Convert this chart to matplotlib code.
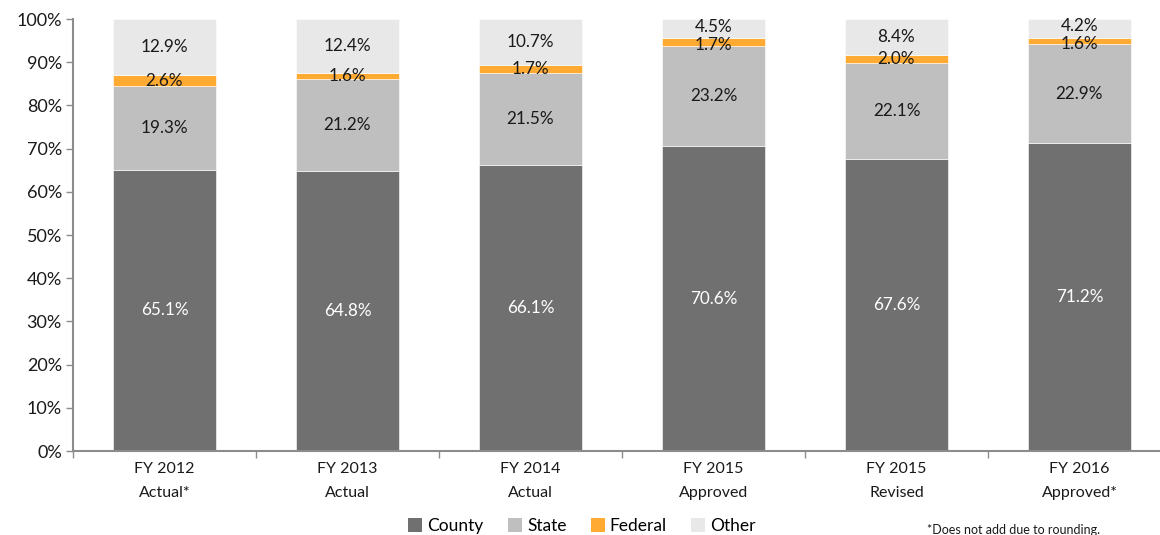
import matplotlib
matplotlib.use("Agg")
import matplotlib.pyplot as plt
from matplotlib.ticker import FixedLocator, PercentFormatter
from matplotlib.patches import Patch
import numpy as np

plt.rcParams['font.family'] = ['Lato', 'DejaVu Sans']

categories = ["FY 2012\nActual*", "FY 2013\nActual", "FY 2014\nActual",
              "FY 2015\nApproved", "FY 2015\nRevised", "FY 2016\nApproved*"]
county = [65.1, 64.8, 66.1, 70.6, 67.6, 71.2]
state = [19.3, 21.2, 21.5, 23.2, 22.1, 22.9]
federal = [2.6, 1.6, 1.7, 1.7, 2.0, 1.6]
other = [12.9, 12.4, 10.7, 4.5, 8.4, 4.2]

series = [("County", county, "#707070", "white"),
          ("State", state, "#BFBFBF", "#1a1a1a"),
          ("Federal", federal, "#FFAB33", "#1a1a1a"),
          ("Other", other, "#E8E8E8", "#1a1a1a")]

fig = plt.figure(figsize=(11.6, 5.35), dpi=100)
ax = fig.add_axes([73 / 1160, 1 - 451 / 535, 1098 / 1160, 432 / 535])

x = np.arange(len(categories))
bottom = np.zeros(len(categories))
handles = []
for name, vals, color, tcolor in series:
    vals = np.array(vals)
    ax.bar(x, vals, 0.56, bottom=bottom, color=color,
           edgecolor="white", linewidth=0.4, zorder=2)
    for i, (xi, b, v) in enumerate(zip(x, bottom, vals)):
        ypos = b + v / 2
        # spread the two top labels apart when the top segment is thin
        if other[i] < 6:
            if name == "Federal":
                ypos -= 0.6
            elif name == "Other":
                ypos += 0.5
        ax.text(xi, ypos, f"{v:.1f}%", ha="center", va="center",
                fontsize=12.3, color=tcolor, zorder=3)
    bottom += vals
    handles.append(Patch(facecolor=color, label=name))

ax.set_xlim(-0.5, len(categories) - 0.5)
ax.set_ylim(0, 100)

ax.yaxis.set_major_locator(FixedLocator(np.arange(0, 101, 10)))
ax.yaxis.set_major_formatter(PercentFormatter(decimals=0))
ax.tick_params(axis="y", labelsize=13, length=5, color="#8c8c8c",
               width=1, pad=3, labelcolor="#1a1a1a")

ax.set_xticks(x)
ax.set_xticklabels(categories, fontsize=11.5, linespacing=1.9, color="#1a1a1a")
ax.tick_params(axis="x", which="major", length=0, pad=8)
ax.xaxis.set_minor_locator(FixedLocator(np.arange(-0.5, len(categories), 1.0)))
ax.tick_params(axis="x", which="minor", length=5, color="#8c8c8c", width=1)

for side in ("top", "right"):
    ax.spines[side].set_visible(False)
for side in ("left", "bottom"):
    ax.spines[side].set_color("#8c8c8c")
    ax.spines[side].set_linewidth(1.5)

fig.legend(handles=handles, loc="center", bbox_to_anchor=(582 / 1160, 1 - 526 / 535),
           ncol=4, frameon=False, fontsize=12.5, handlelength=0.8, handleheight=0.8,
           handletextpad=0.3, columnspacing=1.4)

fig.text(1014 / 1160, 1 - 530 / 535, "*Does not add due to rounding.",
         ha="center", va="center", fontsize=9, color="#1a1a1a")

fig.savefig("out.png", dpi=100)
